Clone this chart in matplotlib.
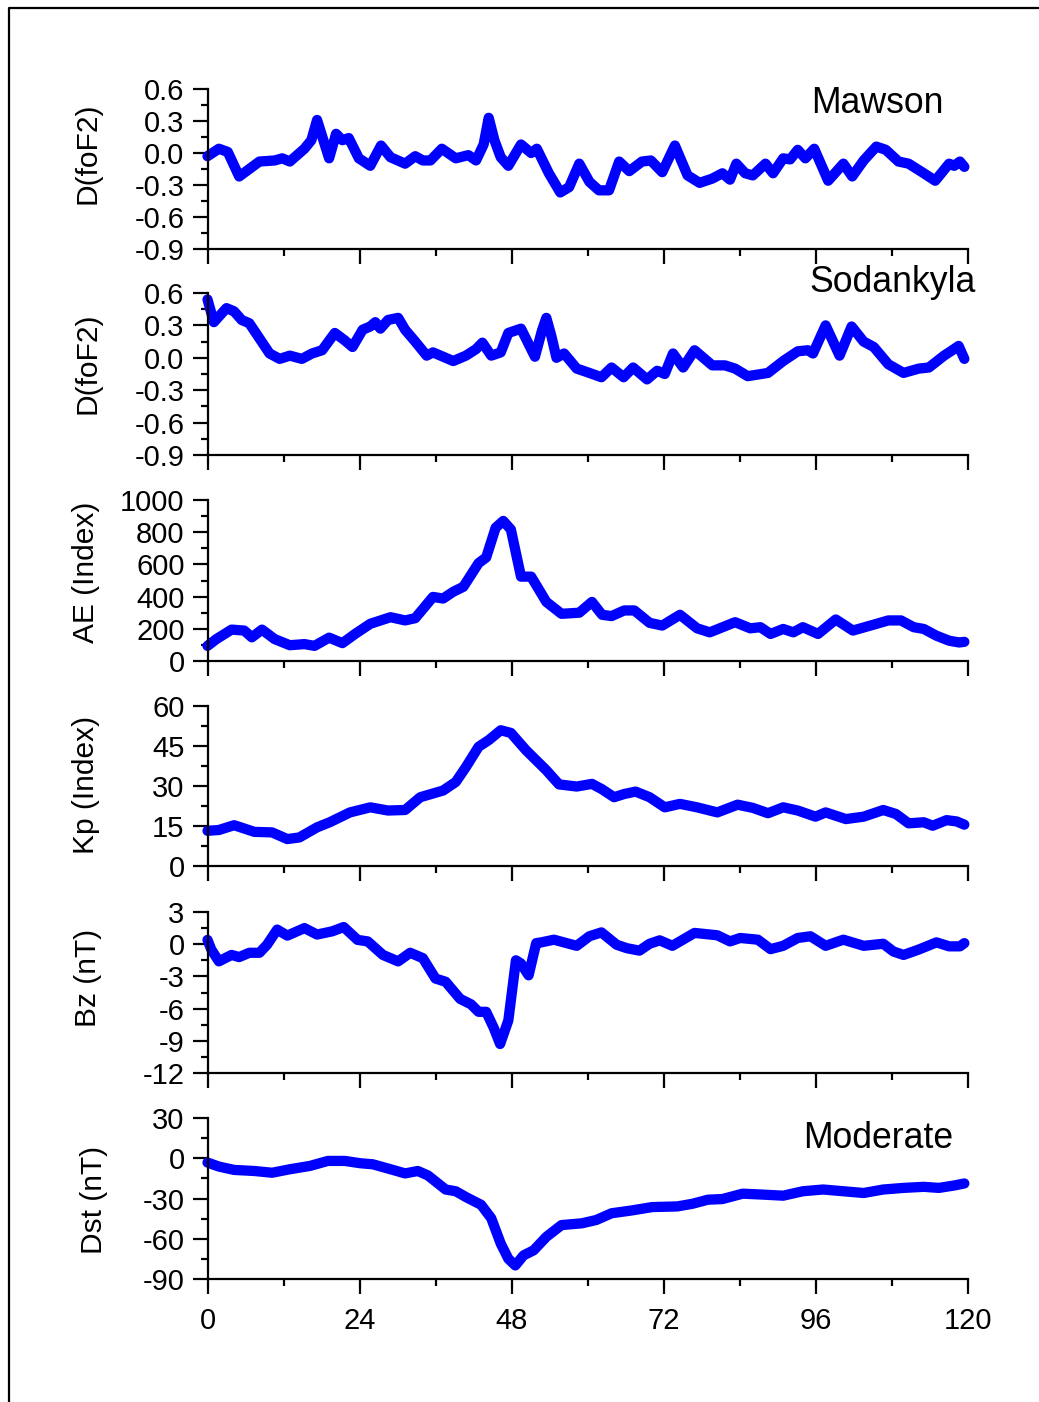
import matplotlib
matplotlib.use("Agg")
import matplotlib.pyplot as plt
from matplotlib.ticker import MultipleLocator, FixedLocator
from matplotlib.lines import Line2D

plt.rcParams['font.family'] = ['Liberation Sans', 'DejaVu Sans']
plt.rcParams['axes.unicode_minus'] = False

# ---- data (hours from start of the interval) ----
h_maw = [0, 1.8, 3.2, 5.0, 6.6, 8.2, 10.6, 11.8, 13.0, 15.3,
         16.4, 17.3, 18.3, 19.2, 20.3, 21.3, 22.3, 23.9, 25.7, 27.4,
         28.9, 31.2, 32.8, 34.0, 35.2, 37.0, 39.2, 41.2, 42.4, 43.6,
         44.4, 45.3, 46.3, 47.5, 49.5, 51.1, 52.0, 53.9, 55.7, 57.1,
         58.7, 60.3, 61.8, 63.4, 65.0, 66.6, 68.6, 70.0, 71.8, 73.8,
         75.8, 77.7, 79.7, 81.3, 82.5, 83.5, 84.9, 86.1, 88.1, 89.3,
         90.9, 92.0, 93.2, 94.4, 95.8, 98.0, 100.4, 101.8, 103.6, 105.6,
         107.1, 109.1, 110.7, 113.1, 114.9, 117.1, 117.9, 118.8, 119.5]
dfof2_mawson = [-0.03, 0.04, 0.01, -0.22, -0.15, -0.08, -0.07, -0.05, -0.08, 0.04,
                0.12, 0.31, 0.12, -0.05, 0.18, 0.12, 0.14, -0.05, -0.12, 0.07,
                -0.04, -0.10, -0.03, -0.07, -0.07, 0.04, -0.05, -0.02, -0.07, 0.08,
                0.33, 0.12, -0.04, -0.12, 0.08, 0.00, 0.04, -0.19, -0.37, -0.32,
                -0.10, -0.27, -0.35, -0.35, -0.08, -0.17, -0.08, -0.07, -0.18, 0.07,
                -0.21, -0.28, -0.24, -0.19, -0.25, -0.10, -0.19, -0.21, -0.10, -0.19,
                -0.05, -0.06, 0.03, -0.05, 0.04, -0.26, -0.10, -0.22, -0.07, 0.06,
                0.03, -0.08, -0.10, -0.19, -0.26, -0.10, -0.12, -0.08, -0.13]

h_sod = [0, 1.0, 3.0, 4.2, 5.4, 6.6, 8.2, 9.8, 11.4, 13.0,
         14.9, 16.5, 18.1, 20.1, 21.7, 22.9, 24.5, 25.7, 26.5, 27.3,
         28.5, 30.1, 31.2, 32.8, 34.6, 35.6, 36.8, 38.8, 40.8, 42.4,
         43.4, 44.8, 46.3, 47.5, 49.5, 51.7, 52.8, 53.5, 54.3, 55.1,
         56.3, 58.3, 60.3, 62.2, 63.8, 65.7, 67.2, 69.4, 71.0, 72.2,
         73.5, 75.1, 76.9, 79.7, 81.7, 83.3, 85.3, 88.5, 90.9, 93.2,
         94.8, 95.6, 97.6, 99.8, 101.7, 103.6, 105.2, 107.5, 109.9, 112.3,
         113.9, 116.3, 117.6, 118.6, 119.5]
dfof2_sodankyla = [0.54, 0.33, 0.46, 0.43, 0.35, 0.32, 0.18, 0.04, -0.01, 0.02,
                   -0.01, 0.04, 0.07, 0.23, 0.16, 0.10, 0.26, 0.29, 0.33, 0.27,
                   0.35, 0.37, 0.26, 0.15, 0.02, 0.05, 0.02, -0.03, 0.02, 0.08,
                   0.14, 0.02, 0.05, 0.23, 0.27, 0.01, 0.25, 0.37, 0.20, 0.00,
                   0.04, -0.10, -0.14, -0.18, -0.09, -0.18, -0.09, -0.20, -0.12, -0.15,
                   0.04, -0.09, 0.07, -0.07, -0.07, -0.10, -0.17, -0.14, -0.03, 0.06,
                   0.07, 0.04, 0.30, 0.02, 0.29, 0.15, 0.10, -0.06, -0.14, -0.10,
                   -0.09, 0.02, 0.07, 0.11, -0.01]

h_ae = [0, 1.4, 3.8, 5.8, 7.0, 8.6, 10.6, 13.0, 15.3, 16.9,
        19.2, 21.3, 23.3, 25.7, 28.9, 31.2, 32.8, 35.6, 37.2, 38.8,
        40.4, 42.8, 44.0, 45.5, 46.7, 47.9, 49.5, 51.1, 53.5, 55.9,
        58.7, 60.7, 62.3, 63.8, 65.8, 67.4, 69.8, 71.8, 74.6, 77.3,
        79.3, 83.3, 85.7, 87.3, 88.9, 90.9, 92.5, 94.0, 96.4, 99.2,
        101.9, 105.2, 107.5, 109.5, 111.5, 113.1, 115.1, 117.1, 118.7, 119.5]
ae_index = [94, 136, 195, 189, 147, 195, 136, 98, 105, 94,
            145, 111, 168, 231, 272, 252, 266, 398, 388, 430,
            461, 608, 643, 828, 870, 817, 524, 524, 367, 293,
            300, 367, 287, 279, 314, 314, 237, 220, 287, 203,
            178, 241, 203, 210, 168, 199, 178, 210, 168, 258,
            189, 226, 252, 252, 210, 199, 157, 126, 115, 119]

h_kp = [0, 1.8, 4.2, 7.4, 10.2, 12.6, 14.5, 17.3, 19.3, 22.5,
        25.7, 28.5, 31.2, 33.6, 37.2, 39.2, 40.8, 42.8, 44.4, 46.3,
        47.9, 50.3, 53.5, 55.5, 58.3, 60.7, 62.2, 64.2, 65.8, 67.6,
        69.8, 72.2, 74.6, 77.3, 80.5, 83.7, 86.1, 88.5, 90.9, 93.2,
        96.0, 97.6, 100.8, 103.6, 106.7, 108.7, 110.7, 113.1, 114.5, 116.7,
        118.3, 119.5]
kp_index = [13.2, 13.5, 15.3, 12.8, 12.6, 10.1, 10.7, 14.5, 16.4, 20.1,
            22.0, 20.8, 21.0, 25.8, 28.3, 31.5, 37.1, 44.7, 47.2, 50.9,
            49.9, 43.4, 35.9, 30.6, 29.8, 30.8, 28.9, 25.8, 27.0, 27.9,
            25.8, 22.0, 23.3, 22.0, 20.1, 23.0, 21.8, 19.8, 22.0, 20.8,
            18.5, 20.1, 17.6, 18.5, 21.0, 19.5, 16.0, 16.4, 15.1, 17.2,
            16.7, 15.5]

h_bz = [0, 0.6, 1.8, 3.8, 5.0, 6.6, 8.2, 9.4, 11.0, 12.6,
        15.3, 17.3, 19.7, 21.5, 23.7, 25.3, 27.7, 30.1, 32.0, 34.0,
        36.0, 37.6, 39.9, 41.6, 42.8, 44.0, 45.2, 46.2, 47.5, 48.7,
        49.5, 50.7, 51.9, 52.7, 54.7, 56.7, 58.3, 60.3, 62.2, 64.6,
        66.2, 68.2, 69.8, 71.4, 73.4, 76.9, 80.5, 82.5, 84.1, 86.9,
        88.9, 90.9, 93.2, 95.2, 97.6, 100.4, 103.6, 106.7, 108.3, 109.9,
        112.3, 115.1, 117.1, 118.8, 119.5]
bz_nt = [0.4, -0.5, -1.6, -1.0, -1.2, -0.8, -0.8, -0.05, 1.36, 0.8,
         1.5, 0.9, 1.2, 1.6, 0.4, 0.26, -1.0, -1.6, -0.8, -1.3,
         -3.2, -3.5, -5.1, -5.6, -6.3, -6.3, -7.8, -9.3, -7.1, -1.5,
         -1.8, -2.9, 0.1, 0.17, 0.42, 0.1, -0.15, 0.74, 1.1, -0.05,
         -0.37, -0.6, 0.04, 0.36, -0.15, 1.05, 0.83, 0.26, 0.58, 0.42,
         -0.46, -0.15, 0.58, 0.74, -0.15, 0.42, -0.15, 0.04, -0.68, -1.0,
         -0.5, 0.17, -0.2, -0.2, 0.1]

h_dst = [0, 1.8, 4.2, 7.4, 10.2, 13.0, 16.2, 19.0, 21.7, 24.1,
         26.1, 28.9, 31.2, 33.2, 34.8, 37.6, 39.2, 40.8, 43.2, 44.8,
         46.3, 47.5, 48.6, 49.9, 51.5, 53.5, 55.9, 59.1, 61.4, 63.8,
         67.0, 70.2, 74.2, 76.6, 79.0, 81.3, 84.5, 87.7, 90.9, 94.0,
         97.2, 100.4, 103.6, 106.7, 109.9, 113.1, 115.5, 117.9, 119.5]
dst_nt = [-3.2, -6.2, -8.7, -9.5, -10.8, -8.2, -5.7, -2.0, -2.0, -3.7,
          -4.5, -8.2, -11.3, -9.5, -12.8, -23.3, -24.6, -28.9, -34.7, -44.7,
          -63.6, -74.9, -79.9, -72.4, -68.6, -58.6, -49.8, -48.5, -46.0, -41.0,
          -38.9, -36.4, -35.9, -33.9, -30.9, -30.4, -26.4, -27.1, -27.9, -24.6,
          -23.3, -24.6, -25.9, -23.3, -22.1, -21.3, -22.1, -20.3, -18.8]

x_ticks = [0, 24, 48, 72, 96, 120]
y_labels = ['D(foF2)', 'D(foF2)', 'AE (Index)', 'Kp (Index)', 'Bz (nT)', 'Dst (nT)']

# ---- figure ----
W, H = 1039, 1402
fig = plt.figure(figsize=(W / 100, H / 100), dpi=100)

def fx(px):
    return px / W

def fy(py):
    return 1 - py / H

# outer frame (left and top edges)
fig.add_artist(Line2D([fx(9), fx(9), 1.0], [0.0, fy(8), fy(8)],
                      transform=fig.transFigure, color='black', lw=1.6))

panels = [
    (h_maw, dfof2_mawson, (-0.9, 0.6), 0.3, 0.15, '{:.1f}', (89, 249), (88, 153)),
    (h_sod, dfof2_sodankyla, (-0.9, 0.6), 0.3, 0.15, '{:.1f}', (293, 455), (88, 363)),
    (h_ae, ae_index, (0, 1000), 200, 100, '{:.0f}', (500, 661), (86, 572)),
    (h_kp, kp_index, (0, 60), 15, 7.5, '{:.0f}', (706, 866), (86, 785)),
    (h_bz, bz_nt, (-12, 3), 3, 1.5, '{:.0f}', (912, 1073), (88, 978)),
    (h_dst, dst_nt, (-90, 30), 30, 15, '{:.0f}', (1118, 1279), (94, 1200)),
]

x0, x1 = 207.5, 967.5
axes = []
for i, (hx, vals, ylim, major, minor, fmt, (ytop, ybot), (lx, ly)) in enumerate(panels):
    ax = fig.add_axes([fx(x0), fy(ybot), fx(x1 - x0), (ybot - ytop) / H])
    ax.plot(hx, vals, color='#0000ff', lw=7.4, solid_joinstyle='round',
            solid_capstyle='round', clip_on=False)
    ax.set_xlim(0, 120)
    ax.set_ylim(*ylim)
    ax.spines['top'].set_visible(False)
    ax.spines['right'].set_visible(False)
    for s in ('left', 'bottom'):
        ax.spines[s].set_linewidth(1.6)
    ax.xaxis.set_major_locator(FixedLocator(x_ticks))
    ax.xaxis.set_minor_locator(MultipleLocator(12))
    ax.yaxis.set_major_locator(MultipleLocator(major))
    ax.yaxis.set_minor_locator(MultipleLocator(minor))
    ax.yaxis.set_major_formatter(plt.FuncFormatter(lambda v, p, f=fmt: f.format(v + 0.0)))
    ax.tick_params(which='major', direction='out', length=10.5, width=1.6,
                   labelsize=21, pad=6)
    ax.tick_params(which='minor', direction='out', length=5, width=1.6)
    if i < len(panels) - 1:
        ax.tick_params(axis='x', labelbottom=False)
    else:
        ax.tick_params(axis='x', pad=10)
    fig.text(fx(lx), fy(ly), y_labels[i], rotation=90, ha='center', va='center',
             fontsize=21.5)
    axes.append(ax)

fig.text(fx(944), fy(113), 'Mawson', ha='right', va='baseline', fontsize=25.7)
fig.text(fx(975.5), fy(292), 'Sodankyla', ha='right', va='baseline', fontsize=25.7)
fig.text(fx(953), fy(1148), 'Moderate', ha='right', va='baseline', fontsize=25.7)

fig.savefig('out.png', dpi=100)
